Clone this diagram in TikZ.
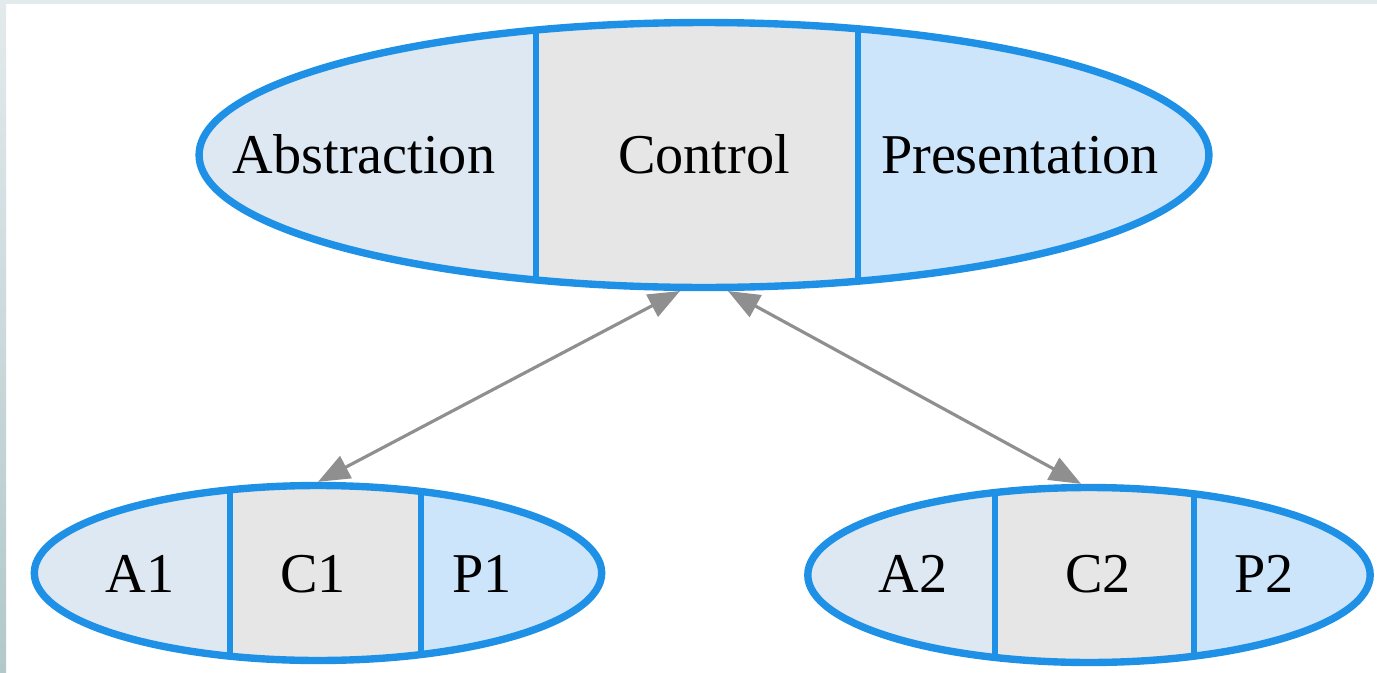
\documentclass[tikz,border=0pt]{standalone}
\usepackage{fontspec}
\setmainfont{Liberation Serif}
\usetikzlibrary{shapes.geometric,arrows.meta}
\definecolor{pacblue}{HTML}{1E90E6}
\definecolor{absfill}{HTML}{DEE8F2}
\definecolor{ctlfill}{HTML}{E6E6E6}
\definecolor{presfill}{HTML}{CCE5FB}
\definecolor{linkgrey}{HTML}{8F8F8F}
\definecolor{framegrey}{HTML}{E3EAEC}
\definecolor{framedark}{HTML}{B2C8C9}

\begin{document}
\begin{tikzpicture}[x=0.02cm,y=-0.02cm]
      \tikzstyle{agent}=[ellipse,draw=pacblue,line width=4.2pt,inner sep=0pt]
      \tikzstyle{divider}=[draw=pacblue,line width=3.4pt]
      \tikzstyle{part}=[anchor=base,inner sep=0pt,font=\fontsize{32}{38}\selectfont]
      \tikzstyle{link}=[{Triangle[length=18pt,width=14pt]}-{Triangle[length=18pt,width=14pt]},draw=linkgrey,fill=linkgrey,line width=1.8pt]
      % page and frame
      \fill[white] (0,0) rectangle (1377,673);
      \shade[top color=framegrey,bottom color=framedark] (0,0) rectangle (6,673);
      \fill[framegrey] (0,0) rectangle (1377,4);
      % top agent (path picture is drawn round the node centre)
      \node[agent,minimum width=20.2cm,minimum height=5.3cm,
        path picture={
          \fill[absfill] (-520,-150) rectangle (-168,150);
          \fill[ctlfill] (-168,-150) rectangle (154,150);
          \fill[presfill] (154,-150) rectangle (520,150);
          \draw[divider] (-168,-150) -- (-168,150);
          \draw[divider] (154,-150) -- (154,150);
        }] (pac) at (704,155) {};
      \node[part] (abs) at (364,173) {Abstraction};
      \node[part] (ctl) at (704,173) {Control};
      \node[part] (pres) at (1020,173) {Presentation};
      % left agent
      \node[agent,minimum width=11.35cm,minimum height=3.5cm,
        path picture={
          \fill[absfill] (-300,-100) rectangle (-88,100);
          \fill[ctlfill] (-88,-100) rectangle (103,100);
          \fill[presfill] (103,-100) rectangle (300,100);
          \draw[divider] (-88,-100) -- (-88,100);
          \draw[divider] (103,-100) -- (103,100);
        }] (pacl) at (318,573) {};
      \node[part] (absl) at (140,592) {A1};
      \node[part] (ctll) at (313,592) {C1};
      \node[part] (presl) at (482,592) {P1};
      % right agent
      \node[agent,minimum width=11.25cm,minimum height=3.5cm,
        path picture={
          \fill[absfill] (-300,-100) rectangle (-94,100);
          \fill[ctlfill] (-94,-100) rectangle (105,100);
          \fill[presfill] (105,-100) rectangle (300,100);
          \draw[divider] (-94,-100) -- (-94,100);
          \draw[divider] (105,-100) -- (105,100);
        }] (pacr) at (1089,575) {};
      \node[part] (absr) at (913,592) {A2};
      \node[part] (ctlr) at (1098,592) {C2};
      \node[part] (presr) at (1264,592) {P2};
      % links
      \draw[link] (pac.260) -- (pacl.north);
      \draw[link] (pac.280) -- (pacr.95);
\end{tikzpicture}
\end{document}
